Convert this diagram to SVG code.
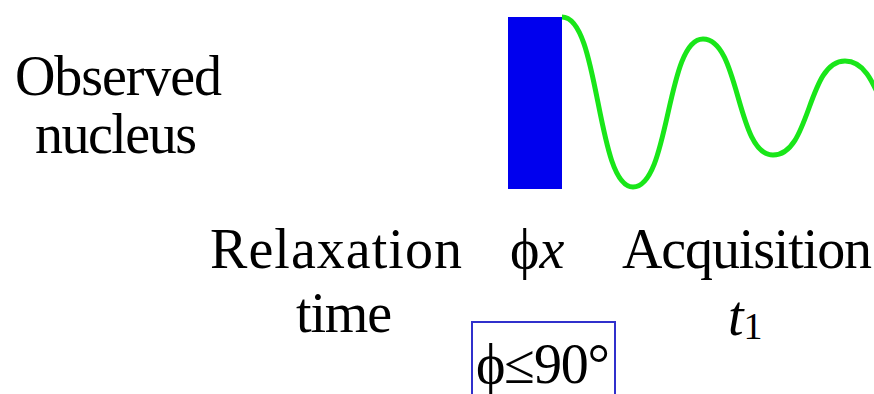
<svg xmlns="http://www.w3.org/2000/svg" width="874" height="394" viewBox="0 0 874 394">
<style>
text{font-family:"Liberation Serif","Times New Roman",serif;font-size:56px;fill:#000}
</style>
<rect width="874" height="394" fill="#fff"/>
<g id="pulse"><rect x="508" y="17" width="54" height="172" fill="#0000ee"/></g>
<g id="fid"><path d="M562,17 C600,17 596,187 633,187 C670,187 666,39 703,39 C740,39 736,155 773,155 C811,155 807,61 845,61 C882,61 880,140 915,140" fill="none" stroke="#19e619" stroke-width="5"/></g>
<g id="labels">
<text x="15" y="95" textLength="207">Observed</text>
<text x="35" y="153" textLength="162">nucleus</text>
<text x="210" y="268" textLength="252">Relaxation</text>
<text x="296" y="332" textLength="96">time</text>
<text x="510" y="268">ϕ<tspan font-style="italic">x</tspan></text>
<text x="622" y="268" textLength="250">Acquisition</text>
<text x="728" y="335" font-style="italic">t<tspan font-style="normal" font-size="38" dy="4">1</tspan></text>
</g>
<g id="condition">
<rect x="472" y="322" width="143" height="80" fill="none" stroke="#3030cc" stroke-width="2"/>
<text x="476" y="383" textLength="134">ϕ≤90°</text>
</g>
</svg>
